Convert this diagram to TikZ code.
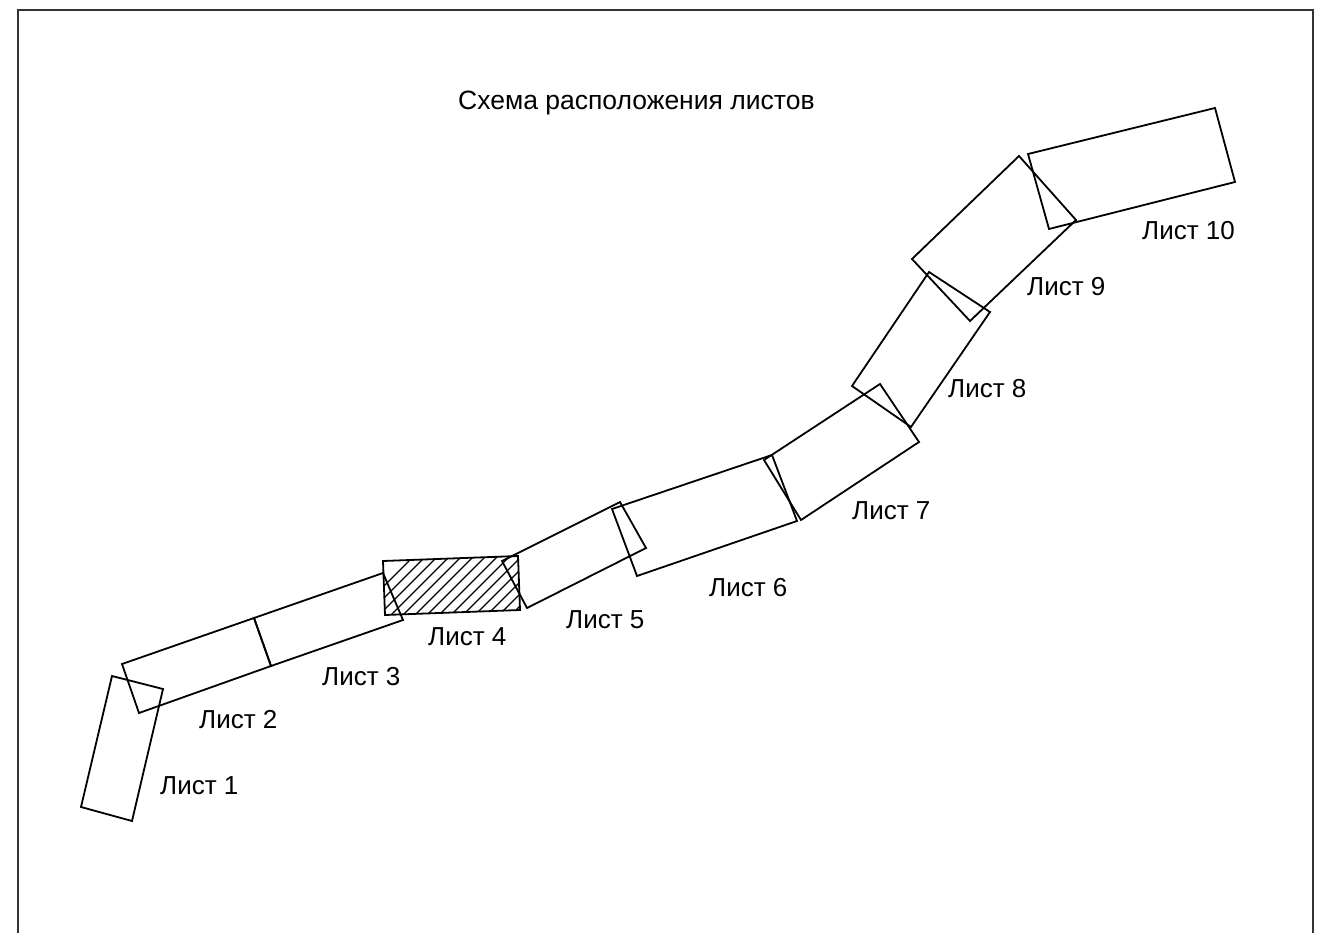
\documentclass[tikz,border=0pt]{standalone}
\usepackage{fontspec}
\setmainfont{Liberation Sans}
\begin{document}
\begin{tikzpicture}[x=1pt,y=-1pt,
  sheet/.style={draw=black,line width=1.8pt,line join=miter},
  lbl/.style={anchor=base west,inner sep=0pt,font=\fontsize{26}{30}\selectfont},
  hatch/.style={line width=1.2pt}]
\useasboundingbox (0,0) rectangle (1335,933);
\fill[white] (0,0) rectangle (1335,933);
% frame
\draw[line width=1.2pt,black!80] (18,940) -- (18,10) -- (1313,10) -- (1313,940);
% title
\node[lbl,font=\fontsize{26.5}{30}\selectfont] (title) at (458,110) {Схема расположения листов};
% sheet 1
\draw[sheet] (112,676) -- (163,689) -- (132,821) -- (81,807) -- cycle;
% sheet 2
\draw[sheet] (122,664) -- (254,618) -- (271,666) -- (139,713) -- cycle;
% sheet 3
\draw[sheet] (254,618) -- (383,573) -- (403,620) -- (271,666) -- cycle;
% sheet 4 (hatched)
\begin{scope}
\clip (383,561) -- (518,556) -- (520,610) -- (385,615) -- cycle;
\foreach \k in {0,...,22} {
  \draw[hatch] ({330+\k*12},640) -- ({330+\k*12+100},540);
}
\end{scope}
\draw[sheet] (383,561) -- (518,556) -- (520,610) -- (385,615) -- cycle;
% sheet 5
\draw[sheet] (502,561) -- (620,502) -- (646,548) -- (527,608) -- cycle;
% sheet 6
\draw[sheet] (612,509) -- (772,455) -- (797,521) -- (637,576) -- cycle;
% sheet 7
\draw[sheet] (764,460) -- (880,384) -- (919,442) -- (801,520) -- cycle;
% sheet 8
\draw[sheet] (929,272) -- (990,312) -- (911,427) -- (852,386) -- cycle;
% sheet 9
\draw[sheet] (912,259) -- (1019,156) -- (1076,220) -- (970,321) -- cycle;
% sheet 10
\draw[sheet] (1028,154) -- (1215,108) -- (1235,182) -- (1049,229) -- cycle;
% labels
\node[lbl] (l1) at (160,794) {Лист 1};
\node[lbl] (l2) at (199,728) {Лист 2};
\node[lbl] (l3) at (322,685) {Лист 3};
\node[lbl] (l4) at (428,645) {Лист 4};
\node[lbl] (l5) at (566,628) {Лист 5};
\node[lbl] (l6) at (709,596) {Лист 6};
\node[lbl] (l7) at (852,519) {Лист 7};
\node[lbl] (l8) at (948,397) {Лист 8};
\node[lbl] (l9) at (1027,295) {Лист 9};
\node[lbl] (l10) at (1142,240) {Лист 10};
\end{tikzpicture}
\end{document}
